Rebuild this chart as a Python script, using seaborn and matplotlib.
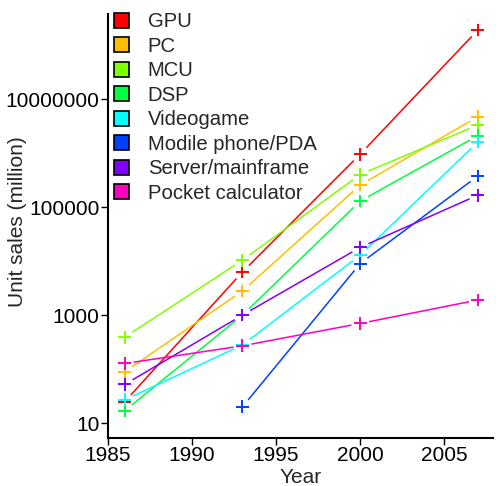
import numpy as np
import pandas as pd
import matplotlib
matplotlib.use("Agg")
import matplotlib.pyplot as plt
import seaborn as sns
from matplotlib.patches import Patch
from matplotlib.ticker import FixedLocator, FuncFormatter, NullLocator

# Data
years = [1986, 1993, 2000, 2007]
gpu = [25, 6300, 950000, 1.9e8]
pc = [89, 2800, 255000, 4.7e6]
mcu = [390, 10400, 400000, 3.3e6]
dsp = [17, 1000, 129000, 2.1e6]
videogame = [27, 280, 12900, 1.6e6]
mobile = [np.nan, 20, 9000, 375000]
server = [52, 1000, 17900, 166000]
pocket = [127, 270, 700, 1900]

labels = ["GPU", "PC", "MCU", "DSP", "Videogame", "Modile phone/PDA",
          "Server/mainframe", "Pocket calculator"]
colors = ["#FF0000", "#FFBF00", "#80FF00", "#00FF40", "#00FFFF", "#0040FF",
          "#8000FF", "#FF00BF"]
series = [gpu, pc, mcu, dsp, videogame, mobile, server, pocket]

rows = []
for lab, vals in zip(labels, series):
    for yr, v in zip(years, vals):
        rows.append((lab, yr, v))
df = pd.DataFrame(rows, columns=["device", "year", "sales"]).dropna()

sns.set_style("ticks")
plt.rcParams["font.family"] = ["Liberation Sans", "DejaVu Sans"]

fig = plt.figure(figsize=(4.96, 4.86), dpi=100)
ax = fig.add_axes([108 / 496, 1 - 438 / 486, (493 - 108) / 496, (438 - 14) / 486])
ax.set_yscale("log")
ax.set_xlim(1985, 2007.9)
ax.set_ylim(5.3, 3.75e8)

# lines with a small gap near each point (like R's type="b")
gap = 9
for lab, col in zip(labels, colors):
    d = df[df.device == lab]
    pts = ax.transData.transform(np.column_stack([d.year, d.sales]))
    for p0, p1 in zip(pts[:-1], pts[1:]):
        v = p1 - p0
        u = v / np.hypot(*v)
        seg = ax.transData.inverted().transform(np.vstack([p0 + u * gap, p1 - u * gap]))
        ax.plot(seg[:, 0], seg[:, 1], color=col, lw=1.1, solid_capstyle="butt")

sns.scatterplot(data=df, x="year", y="sales", hue="device",
                palette=dict(zip(labels, colors)), marker="+", s=85,
                linewidth=1.4, legend=False, ax=ax, zorder=3)

ax.xaxis.set_major_locator(FixedLocator([1985, 1990, 1995, 2000, 2005]))
ax.yaxis.set_major_locator(FixedLocator([10, 1e3, 1e5, 1e7]))
ax.yaxis.set_minor_locator(NullLocator())
ax.yaxis.set_major_formatter(FuncFormatter(lambda v, p: f"{int(round(v))}"))

sns.despine(ax=ax)
for s in ["left", "bottom"]:
    ax.spines[s].set_linewidth(1.5)
    ax.spines[s].set_color("black")
ax.tick_params(axis="both", labelsize=15, length=5, width=1, color="black",
               labelcolor="black", pad=1)

ax.set_xlabel("Year", fontsize=15, labelpad=2)
ax.set_ylabel("Unit sales (million)", fontsize=15)
ax.yaxis.set_label_coords(-0.21, 0.51)

handles = [Patch(facecolor=c, edgecolor="black", linewidth=1.2) for c in colors]
ax.legend(handles, labels, loc="upper left", bbox_to_anchor=(0.016, 1.004),
          frameon=False, fontsize=14.6, handlelength=0.75, handleheight=0.75,
          handletextpad=0.9, labelspacing=0.27, borderaxespad=0, borderpad=0)

fig.savefig("out.png", dpi=100)
